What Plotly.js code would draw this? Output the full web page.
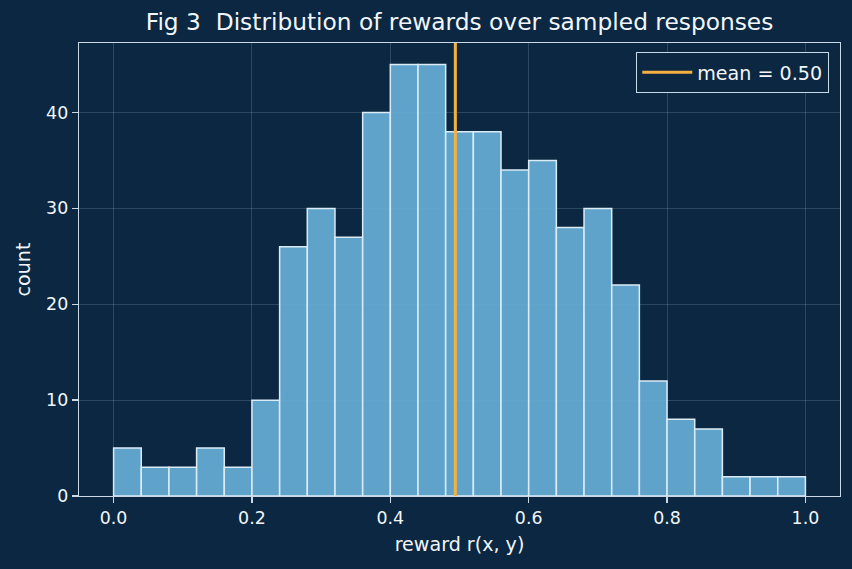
<!DOCTYPE html>
<html>
<head>
<meta charset="utf-8">
<script src="https://cdn.plot.ly/plotly-3.0.1.min.js"></script>
<style>html,body{margin:0;padding:0;background:#0b2741;}</style>
</head>
<body>
<div id="chart" style="width:852px;height:569px;"></div>
<script>
// Data
const binLeftEdges = [0.00,0.04,0.08,0.12,0.16,0.20,0.24,0.28,0.32,0.36,0.40,0.44,0.48,0.52,0.56,0.60,0.64,0.68,0.72,0.76,0.80,0.84,0.88,0.92,0.96];
const binWidth = 0.04;
const counts = [5,3,3,5,3,10,26,30,27,40,45,45,38,38,34,35,28,30,22,12,8,7,2,2,2];
const meanValue = 0.494;
const meanLabel = "mean = 0.50";
const xTicks = [0.0,0.2,0.4,0.6,0.8,1.0];
const xTickLabels = ["0.0","0.2","0.4","0.6","0.8","1.0"];
const yTicks = [0,10,20,30,40];

const bg = '#0b2741';
const fg = '#f2f6fa';
const axisCol = '#c9d9e6';
const font = "DejaVu Sans, sans-serif";

const bars = {
  type: 'bar',
  x: binLeftEdges.map(e => e + binWidth/2),
  y: counts,
  width: binWidth,
  marker: {color: 'rgba(100,170,210,0.95)', line: {color: '#dcecf6', width: 1.5}},
  showlegend: false,
  hoverinfo: 'x+y'
};
const meanLine = {
  type: 'scatter', mode: 'lines',
  x: [meanValue, meanValue], y: [0, 1],
  yaxis: 'y2',
  line: {color: '#f5b042', width: 3},
  name: meanLabel
};

const layout = {
  width: 852, height: 569,
  paper_bgcolor: bg, plot_bgcolor: bg,
  margin: {l: 79, r: 12, t: 43, b: 73},
  font: {family: font, color: fg, size: 17.4},
  title: {text: 'Fig 3  Distribution of rewards over sampled responses', font: {size: 23.3, color: fg, family: font}, x: 0.5, xref: 'paper', xanchor: 'center', y: 0.961, yanchor: 'middle'},
  bargap: 0,
  xaxis: {
    range: [-0.05, 1.05], tickvals: xTicks, ticktext: xTickLabels,
    showgrid: true, gridcolor: 'rgba(200,220,235,0.22)', gridwidth: 0.8,
    zeroline: false, showline: true, linecolor: axisCol, linewidth: 1.3, mirror: true,
    ticks: 'outside', ticklen: 6, tickwidth: 1.3, tickcolor: axisCol, tickfont: {size: 17.4, color: fg},
    title: {text: 'reward r(x, y)', font: {size: 19.1, color: fg}, standoff: 10}
  },
  yaxis: {
    range: [0, 47.25], tickvals: yTicks,
    showgrid: true, gridcolor: 'rgba(200,220,235,0.22)', gridwidth: 0.8,
    zeroline: false, showline: true, linecolor: axisCol, linewidth: 1.3, mirror: true,
    ticks: 'outside', ticklen: 6, tickwidth: 1.3, tickcolor: axisCol, tickfont: {size: 17.4, color: fg},
    title: {text: 'count', font: {size: 19.1, color: fg}, standoff: 10}
  },
  yaxis2: {range: [0, 1], overlaying: 'y', visible: false, fixedrange: true},
  legend: {
    x: 0.9855, y: 0.98, xanchor: 'right', yanchor: 'top',
    bgcolor: bg, bordercolor: axisCol, borderwidth: 1.3,
    itemwidth: 50,
    font: {size: 19.1, color: fg}
  }
};

Plotly.newPlot('chart', [bars, meanLine], layout, {displayModeBar: false, staticPlot: true});
</script>
</body>
</html>
